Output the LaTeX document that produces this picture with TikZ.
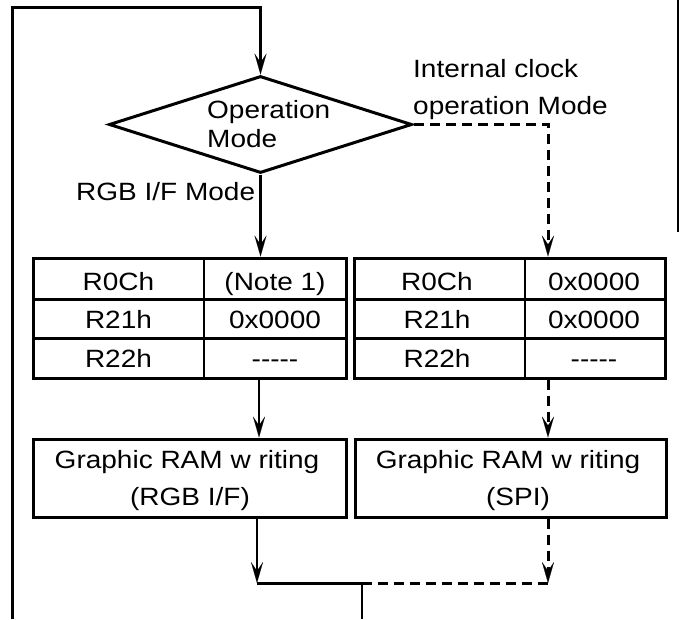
\documentclass[tikz,border=0pt]{standalone}
\usepackage{fontspec}
\setmainfont{Liberation Sans}[FakeStretch=1.12]
\usetikzlibrary{arrows.meta,shapes.geometric}
\newcommand{\hyphenfive}{-\kern0pt-\kern0pt-\kern0pt-\kern0pt-}
\tikzset{
  txt/.style={inner sep=0pt, font=\fontsize{25}{29}\selectfont},
  lw/.style={line width=3pt},
  thinl/.style={line width=1.8pt},
  tip/.style={-{Stealth[length=21pt,width=12pt,inset=9pt,line width=0.1pt]}},
  dsh/.style={dash pattern=on 10pt off 6pt},
  box/.style={draw, line width=3pt, rectangle, inner sep=0pt, minimum width=313pt},
}
\begin{document}
\begin{tikzpicture}[x=1pt,y=-1pt]
\useasboundingbox (0,0) rectangle (679,619);

% decision
\node[diamond, draw, lw, minimum width=303pt, minimum height=97pt, inner sep=0pt] (dec) at (260.5,124.5) {};
\node[txt, anchor=base west] (decA) at (207,118.5) {Operation};
\node[txt, anchor=base west] (decB) at (207,147) {Mode};
\node[txt, anchor=base west] (lblIC1) at (413,77) {Internal clock};
\node[txt, anchor=base west] (lblIC2) at (413,114) {operation Mode};
\node[txt, anchor=base west] (lblRGB) at (76,200) {RGB I/F Mode};

% left table
\node[box, minimum height=120pt] (tabL) at (189.5,318) {};
\draw[lw] (33,299) -- (346,299);
\draw[lw] (33,338) -- (346,338);
\draw[line width=1.5pt] (204,258) -- (204,378);
\node[txt, anchor=base] (tL11) at (118.5,290) {R0Ch};
\node[txt, anchor=base] (tL12) at (275,290) {(Note 1)};
\node[txt, anchor=base] (tL21) at (118.5,328) {R21h};
\node[txt, anchor=base] (tL22) at (275,328) {0x0000};
\node[txt, anchor=base] (tL31) at (118.5,367) {R22h};
\node[txt, anchor=base] (tL32) at (275,367) {\hyphenfive};

% right table
\node[box, minimum width=311pt, minimum height=120pt] (tabR) at (509.5,318) {};
\draw[lw] (354,299) -- (665,299);
\draw[lw] (354,338) -- (665,338);
\draw[line width=1.8pt] (525,258) -- (525,378);
\node[txt, anchor=base] (tR11) at (437,290) {R0Ch};
\node[txt, anchor=base] (tR12) at (594,290) {0x0000};
\node[txt, anchor=base] (tR21) at (437,328) {R21h};
\node[txt, anchor=base] (tR22) at (594,328) {0x0000};
\node[txt, anchor=base] (tR31) at (437,367) {R22h};
\node[txt, anchor=base] (tR32) at (594,367) {\hyphenfive};

% graphic RAM boxes
\node[box, minimum height=78pt] (gL) at (189.5,478) {};
\node[txt, anchor=base] (gL1) at (187,468) {Graphic RAM w riting};
\node[txt, anchor=base] (gL2) at (190,505) {(RGB I/F)};
\node[box, minimum width=311pt, minimum height=78pt] (gR) at (510.5,478) {};
\node[txt, anchor=base] (gR1) at (508,468) {Graphic RAM w riting};
\node[txt, anchor=base] (gR2) at (518,505) {(SPI)};

% coordinates
\coordinate (loopB) at (12,619);
\coordinate (loopT) at (12,7);
\coordinate (colR) at (548,0);
\coordinate (colL) at (259,0);
\coordinate (jL) at (257,583);
\coordinate (jM) at (362,583);
\coordinate (jR) at (548,583);
\coordinate (bot) at (362,619);
\coordinate (edgeT) at (678,0);
\coordinate (edgeB) at (678,232);

% connectors
\draw[lw, tip] (loopB) -- (loopT) -| (dec.north);
\draw[lw, tip] (dec.south) -- (dec.south |- tabL.north);
\draw[lw, dsh, tip] (dec.east) -| (colR |- tabR.north);
\draw[thinl, tip] (colL |- tabL.south) -- (colL |- gL.north);
\draw[lw, dsh, tip] (colR |- tabR.south) -- (colR |- gR.north);
\draw[thinl, tip] (gL.south -| jL) -- (jL);
\draw[lw, dsh, tip] (gR.south -| jR) -- (jR);
\draw[lw] (jL) -- (jM);
\draw[lw, dsh] (jM) -- (jR);
\draw[thinl] (jM) -- (bot);
\draw[line width=1.2pt] (edgeT) -- (edgeB);
\end{tikzpicture}
\end{document}
